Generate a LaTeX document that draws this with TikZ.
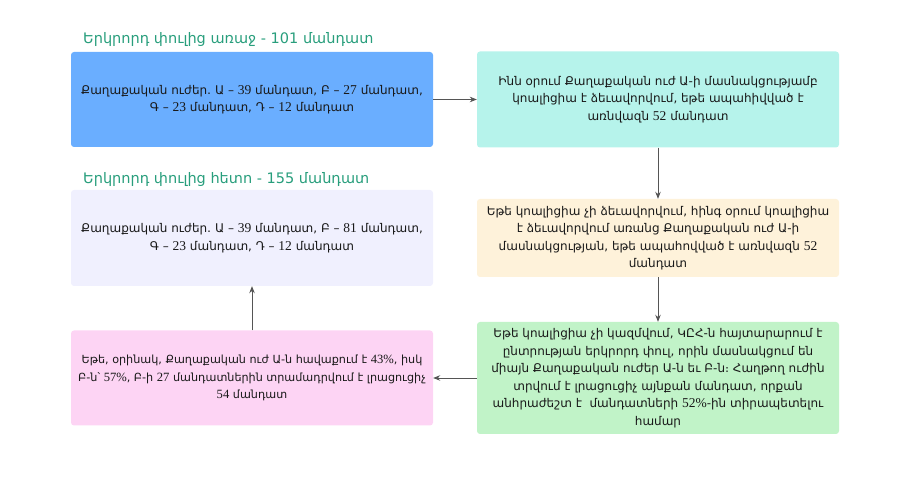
\documentclass[tikz,border=0pt]{standalone}
\usepackage{fontspec}
\setmainfont{DejaVu Sans}
\newfontfamily\numf{Liberation Serif}
\newcommand{\nm}[1]{{\numf\fontsize{13.5}{17.5}\selectfont #1}}
\newcommand{\nms}[1]{{\numf\fontsize{12.6}{17.5}\selectfont #1}}
\usetikzlibrary{arrows.meta}
\definecolor{ttl}{RGB}{40,158,124}
\definecolor{cA}{RGB}{106,174,255}
\definecolor{cB}{RGB}{182,243,235}
\definecolor{cC}{RGB}{254,242,218}
\definecolor{cD}{RGB}{193,243,200}
\definecolor{cE}{RGB}{253,212,244}
\definecolor{cF}{RGB}{240,240,254}
\definecolor{arr}{RGB}{85,85,85}
\tikzset{
  boxst/.style={rounded corners=3pt, minimum width=362pt, align=center,
    inner sep=0pt, font=\fontsize{12}{17.5}\selectfont, text=black!90},
  titlest/.style={anchor=west, inner sep=0pt, text=ttl, font=\fontsize{14.5}{17}\selectfont},
  conn/.style={draw=arr, line width=0.8pt, -{Stealth[length=7pt,width=5.5pt]}}
}
\begin{document}
\begin{tikzpicture}[x=1pt,y=1pt]
\useasboundingbox (0,0) rectangle (900,502);
\node[titlest] (t1) at (83,462) {Երկրորդ փուլից առաջ - 101 մանդատ};
\node[titlest] (t2) at (83,322) {Երկրորդ փուլից հետո - 155 մանդատ};

\node[boxst, fill=cA, minimum height=95pt] (b1) at (252,402.5)
  {Քաղաքական ուժեր․ Ա – \nm{39} մանդատ, Բ – \nm{27} մանդատ,\\ Գ – \nm{23} մանդատ, Դ – \nm{12} մանդատ};
\node[boxst, fill=cB, minimum height=96pt] (b2) at (658,402.5)
  {Ինն օրում Քաղաքական ուժ Ա-ի մասնակցությամբ\\ կոալիցիա է ձեւավորվում, եթե ապահիվված է\\ առնվազն \nm{52} մանդատ};
\node[boxst, fill=cC, minimum height=78pt] (b3) at (658,264)
  {Եթե կոալիցիա չի ձեւավորվում, հինգ օրում կոալիցիա\\ է ձեւավորվում առանց Քաղաքական ուժ Ա-ի\\ մասնակցության, եթե ապահովված է առնվազն \nm{52}\\ մանդատ};
\node[boxst, fill=cD, minimum height=112pt] (b4) at (658,124)
  {Եթե կոալիցիա չի կազմվում, ԿԸՀ-ն հայտարարում է\\ ընտրության երկրորդ փուլ, որին մասնակցում են\\ միայն Քաղաքական ուժեր Ա-ն եւ Բ-ն։ Հաղթող ուժին\\ տրվում է լրացուցիչ այնքան մանդատ, որքան\\ անհրաժեշտ է \ մանդատների \nm{52\%}-ին տիրապետելու\\ համար};
\node[boxst, fill=cE, minimum height=95pt, font=\fontsize{11.2}{17.5}\selectfont] (b5) at (252,124)
  {Եթե, օրինակ, Քաղաքական ուժ Ա-ն հավաքում է \nms{43\%}, իսկ\\ Բ-ն՝ \nms{57\%}, Բ-ի \nms{27} մանդատներին տրամադրվում է լրացուցիչ\\ \nms{54} մանդատ};
\node[boxst, fill=cF, minimum height=96pt] (b6) at (252,264)
  {Քաղաքական ուժեր․ Ա – \nm{39} մանդատ, Բ – \nm{81} մանդատ,\\ Գ – \nm{23} մանդատ, Դ – \nm{12} մանդատ};

\draw[conn] (b1) -- (b2);
\draw[conn] (b2) -- (b3);
\draw[conn] (b3) -- (b4);
\draw[conn] (b4) -- (b5);
\draw[conn] (b5) -- (b6);
\end{tikzpicture}
\end{document}
